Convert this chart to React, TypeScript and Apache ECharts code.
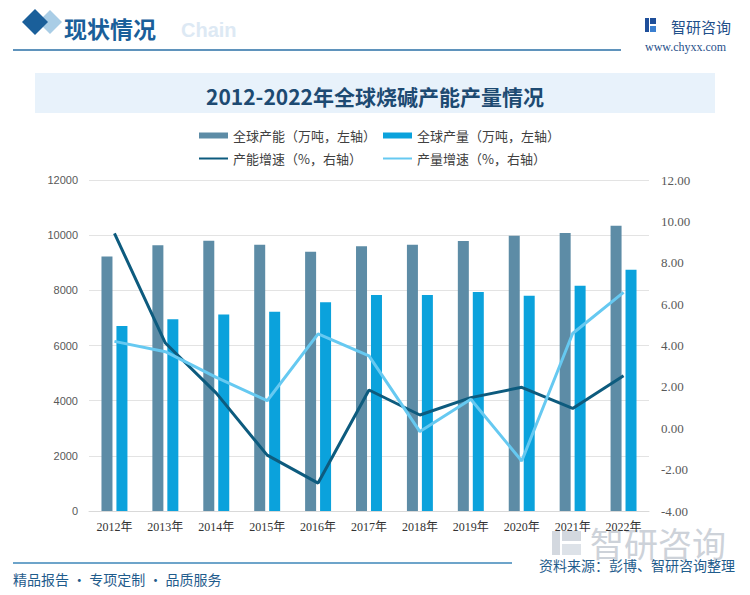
import React, { useEffect, useRef } from "react";
import * as echarts from "echarts";

const years = ["2012年", "2013年", "2014年", "2015年", "2016年", "2017年", "2018年", "2019年", "2020年", "2021年", "2022年"];
const capacity = [9230, 9630, 9800, 9650, 9400, 9600, 9650, 9790, 9980, 10080, 10340];
const production = [6710, 6950, 7120, 7220, 7570, 7830, 7830, 7940, 7800, 8170, 8750];
const capacityGrowth = [9.42, 4.12, 1.7, -1.3, -2.65, 1.85, 0.64, 1.48, 1.98, 0.96, 2.54];
const productionGrowth = [4.2, 3.7, 2.46, 1.33, 4.56, 3.5, -0.16, 1.4, -1.58, 4.58, 6.57];

const leftTicks = { min: 0, max: 12000, interval: 2000 };
const rightTicks = { min: -4, max: 12, interval: 2 };

const names = {
  cap: "全球产能（万吨，左轴）",
  prod: "全球产量（万吨，左轴）",
  capG: "产能增速（%，右轴）",
  prodG: "产量增速（%，右轴）",
};

const CJK = "'Noto Sans CJK SC', 'Noto Sans', sans-serif";
const SERIF = "'Liberation Serif', 'DejaVu Serif', 'Noto Sans CJK SC', serif";

export default function App() {
  const ref = useRef<HTMLDivElement>(null);
  useEffect(() => {
    document.body.style.margin = "0";
    const chart = echarts.init(ref.current!, null, { renderer: "svg" });
    const legendText = { fontSize: 13, color: "#404040", fontFamily: CJK };
    chart.setOption({
      animation: false,
      backgroundColor: "#ffffff",
      grid: { left: 89, right: 101, top: 180, bottom: 84 },
      legend: [
        {
          orient: "vertical",
          left: 193,
          top: 124,
          itemWidth: 29,
          itemHeight: 6,
          itemGap: 10,
          textStyle: legendText,
          data: [
            { name: names.cap, icon: "rect" },
            { name: names.capG, itemStyle: { opacity: 0 } },
          ],
        },
        {
          orient: "vertical",
          left: 377,
          top: 124,
          itemWidth: 29,
          itemHeight: 6,
          itemGap: 10,
          textStyle: legendText,
          data: [
            { name: names.prod, icon: "rect" },
            { name: names.prodG, itemStyle: { opacity: 0 } },
          ],
        },
      ],
      xAxis: {
        type: "category",
        data: years,
        axisTick: { show: false },
        axisLine: { lineStyle: { color: "#d9d9d9" } },
        axisLabel: { color: "#333", fontSize: 12, fontFamily: SERIF, margin: 10 },
      },
      yAxis: [
        {
          type: "value",
          ...leftTicks,
          axisLine: { show: false },
          axisTick: { show: false },
          splitLine: { lineStyle: { color: "#e3e3e3" } },
          axisLabel: {
            color: "#595959",
            fontSize: 11,
            fontFamily: "'Liberation Sans', Arial, sans-serif",
            margin: 11,
            formatter: (v: number) => String(v),
          },
        },
        {
          type: "value",
          ...rightTicks,
          axisLine: { show: false },
          axisTick: { show: false },
          splitLine: { show: false },
          axisLabel: {
            color: "#595959",
            fontSize: 13,
            fontFamily: SERIF,
            margin: 12,
            formatter: (v: number) => v.toFixed(2),
          },
        },
      ],
      series: [
        {
          name: names.cap,
          type: "bar",
          data: capacity,
          barWidth: 11,
          barGap: "36%",
          itemStyle: { color: "#5d8ca6" },
        },
        {
          name: names.prod,
          type: "bar",
          data: production,
          barWidth: 11,
          itemStyle: { color: "#0ba2dc" },
        },
        {
          name: names.capG,
          type: "line",
          yAxisIndex: 1,
          data: capacityGrowth,
          symbol: "none",
          lineStyle: { color: "#0d5b7e", width: 3 },
          itemStyle: { color: "#0d5b7e" },
        },
        {
          name: names.prodG,
          type: "line",
          yAxisIndex: 1,
          data: productionGrowth,
          symbol: "none",
          lineStyle: { color: "#66c9f1", width: 3 },
          itemStyle: { color: "#66c9f1" },
        },
      ],
      graphic: [
        // header diamonds
        { type: "polygon", shape: { points: [[50, 10], [62, 22], [50, 34], [38, 22]] }, style: { fill: "#a9cde6" } },
        { type: "polygon", shape: { points: [[35, 9], [48, 22], [35, 35], [22, 22]] }, style: { fill: "#1a5f9a" } },
        { type: "text", x: 181, y: 30, style: { text: "Chain", fill: "#dde9f4", font: "bold 20px 'Liberation Sans', Arial, sans-serif", textVerticalAlign: "middle" } },
        { type: "text", x: 64, y: 28, style: { text: "现状情况", fill: "#1a5f9a", font: `bold 23px ${CJK}`, textVerticalAlign: "middle" } },
        { type: "line", shape: { x1: 13, y1: 50, x2: 621, y2: 50 }, style: { stroke: "#2a6fa6", lineWidth: 1.5 } },
        // logo top-right
        { type: "rect", shape: { x: 645, y: 18, width: 4, height: 14 }, style: { fill: "#1f4f9a" } },
        { type: "rect", shape: { x: 650, y: 18, width: 6, height: 6 }, style: { fill: "#1f4f9a" } },
        { type: "rect", shape: { x: 650, y: 26, width: 6, height: 6 }, style: { fill: "#3b7fd0" } },
        { type: "text", x: 671, y: 26, style: { text: "智研咨询", fill: "#1f4f8a", font: `15px ${CJK}`, textVerticalAlign: "middle" } },
        { type: "text", x: 645, y: 47, style: { text: "www.chyxx.com", fill: "#1f4f8a", font: `12px ${SERIF}`, textVerticalAlign: "middle" } },
        // title banner
        { type: "rect", z: -1, shape: { x: 35, y: 73, width: 680, height: 40 }, style: { fill: "#e8f2fb" } },
        { type: "text", x: 375, y: 96, style: { text: "2012-2022年全球烧碱产能产量情况", fill: "#1d4a72", font: `bold 21px ${CJK}`, textAlign: "center", textVerticalAlign: "middle" } },
        // bottom watermark
        { type: "rect", z: -1, shape: { x: 552, y: 531, width: 8, height: 24 }, style: { fill: "#d3d8df" } },
        { type: "rect", z: -1, shape: { x: 562, y: 531, width: 19, height: 10 }, style: { fill: "#d3d8df" } },
        { type: "rect", z: -1, shape: { x: 562, y: 544, width: 19, height: 11 }, style: { fill: "#dde2e8" } },
        { type: "text", z: -1, x: 590, y: 542, style: { text: "智研咨询", fill: "#cdd2d9", font: `34px ${CJK}`, textVerticalAlign: "middle" } },
        // footer
        { type: "line", shape: { x1: 13, y1: 563, x2: 512, y2: 563 }, style: { stroke: "#3c86b8", lineWidth: 1.5 } },
        { type: "text", x: 735, y: 565, style: { text: "资料来源：彭博、智研咨询整理", fill: "#1f5c8c", font: `14px ${CJK}`, textAlign: "right", textVerticalAlign: "middle" } },
        { type: "text", x: 13, y: 579, style: { text: "精品报告 · 专项定制 · 品质服务", fill: "#1f5c8c", font: `14px ${CJK}`, textVerticalAlign: "middle" } },
      ],
    });
    return () => chart.dispose();
  }, []);
  return <div ref={ref} style={{ width: 750, height: 595, position: "absolute", left: 0, top: 0 }} />;
}
